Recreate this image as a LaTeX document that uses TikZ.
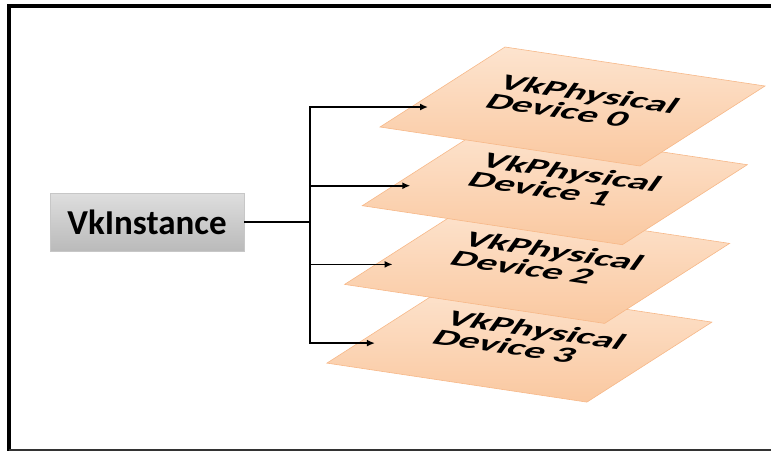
\documentclass[tikz,border=0pt]{standalone}
\usepackage{fontspec}
\setmainfont{Carlito}
\usetikzlibrary{positioning}
\usetikzlibrary{calc}
\usetikzlibrary{arrows.meta}
\definecolor{peachtop}{HTML}{FDE4CF}
\definecolor{peachbot}{HTML}{FAC8A0}
\definecolor{peachline}{HTML}{F7B888}
\tikzset{instbox/.style={draw=black!22,top color=black!13,bottom color=black!27,minimum width=194pt,minimum height=58pt,font=\fontsize{35}{40}\selectfont\bfseries}}
\tikzset{devsheet/.style={draw=peachline,line width=0.6pt,top color=peachtop,bottom color=peachbot}}
\tikzset{devtext/.style={cm={2.0,-0.29,0.75,1.05,(0,0)},align=left,inner sep=0pt,font=\fontsize{20}{16}\selectfont\bfseries}}
\tikzset{>={Latex[length=8pt,width=7pt]}}

\begin{document}
\begin{tikzpicture}[x=1pt,y=-1pt]
\useasboundingbox (0,0) rectangle (771,451);
\draw[line width=3.6pt] (771,6) -- (8.8,6) -- (8.8,451);
\draw[line width=2.4pt,black!80] (8.8,449.8) -- (771,449.8);

\node[instbox] (inst) at (147,222) {VkInstance};
\coordinate (split) at (310,222);

\foreach \i in {3,2,1,0} {
  \coordinate (L\i) at ({380-17.7*\i},{127+78.7*\i});
  \draw[devsheet] (L\i) -- ++(125,-80) -- ++(260,39) -- ++(-125,80) -- cycle;
  \node[devtext] (dev\i) at ($(L\i)+(203,-24)$) {VkPhysical\\Device \i};
  \coordinate (tip\i) at ($(L\i)+(48,-20)$);
}

\draw[line width=1.8pt] (inst.east) -- (split);
\foreach \i in {0,...,3}
  \draw[->,line width=1.8pt] (split) |- (tip\i);
\end{tikzpicture}
\end{document}
